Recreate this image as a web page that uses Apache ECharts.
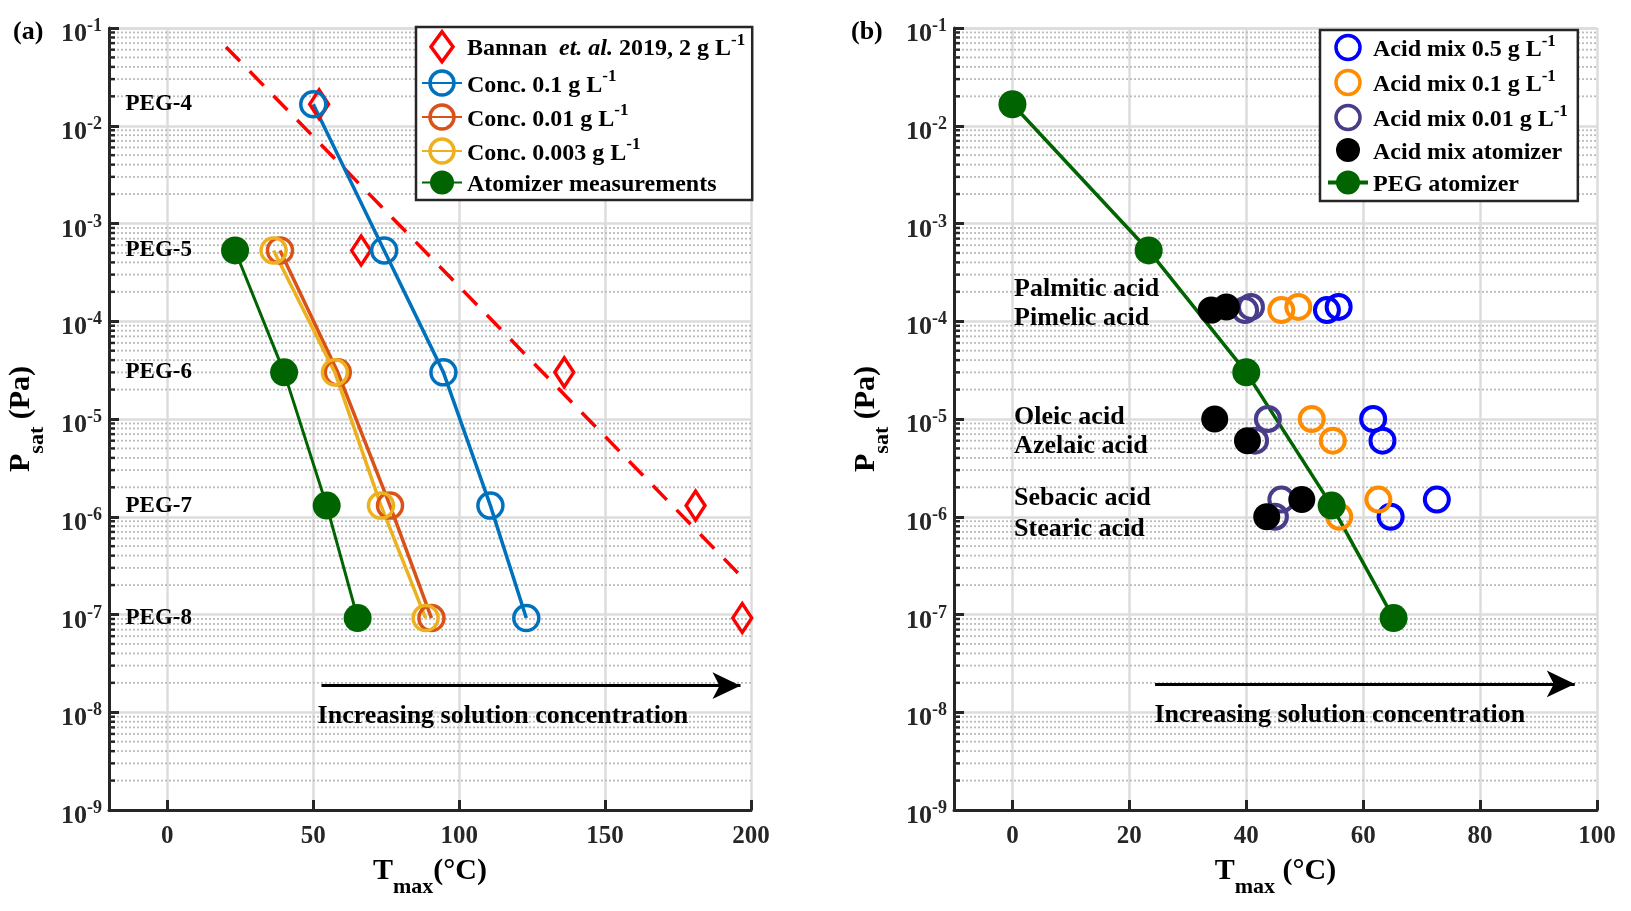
<!DOCTYPE html>
<html><head><meta charset="utf-8">
<script src="https://cdn.jsdelivr.net/npm/echarts@6/dist/echarts.min.js"></script>
<style>html,body{margin:0;padding:0;background:#fff}#c{width:1631px;height:911px}</style>
</head><body><div id="c"></div><script>
// ---------- Panel (a) data ----------
const pegNames   = ['PEG-4','PEG-5','PEG-6','PEG-7','PEG-8'];
const pegPsat    = [1.66e-2, 5.3e-4, 3.0e-5, 1.3e-6, 9.2e-8];
const bannanT    = [52, 66.4, 136, 181, 197];
const conc01T    = [50, 74.3, 94.6, 110.7, 123];
const conc001T   = [null, 38.6, 58.4, 76.3, 90.5];
const conc0003T  = [null, 36.4, 57.4, 73.2, 88.5];
const atomizerT  = [null, 23.2, 40, 54.6, 65.2];
const bannanFitT = [20.1, 196.4];
const bannanFitP = [6.4e-2, 2.5e-7];
const pegLabelT  = -14.5;
const arrowA     = [[52.8, 1.87e-8], [196.4, 1.87e-8]];
const arrowTextA = [115, 9.2e-9];
// ---------- Panel (b) data ----------
const acidPsat   = [1.3e-4, 1.4e-4, 1.0e-5, 6.0e-6, 1.5e-6, 1.0e-6];
const acid05T    = [53.8, 55.8, 61.7, 63.3, 72.6, 64.7];
const acid01T    = [46.0, 48.9, 51.2, 54.8, 62.6, 55.9];
const acid001T   = [39.8, 40.8, 43.7, 41.5, 46.0, 44.9];
const acidAtomT  = [34.0, 36.6, 34.6, 40.2, 49.5, 43.5];
const pegAtomT   = [0, 23.3, 40, 54.6, 65.2];
const acidNames  = ['Palmitic acid','Pimelic acid','Oleic acid','Azelaic acid','Sebacic acid','Stearic acid'];
const acidLabelP = [2.1e-4, 1.08e-4, 1.05e-5, 5.2e-6, 1.56e-6, 7.5e-7];
const acidLabelT = 0.2;
const arrowB     = [[24.4, 1.95e-8], [96.2, 1.95e-8]];
const arrowTextB = [56, 9.4e-9];
// axis ranges
const xRangeA = [-20, 200];
const xRangeB = [-10, 100];

const FONT = '"Liberation Serif","Times New Roman",serif';
const AX = '#262626';
const C = {blueA:'#0072BD', orangeA:'#D95319', yellowA:'#EDB120', green:'#006400', red:'#FF0000',
           blueB:'#0000FF', orangeB:'#FF8C00', purpleB:'#483D8B', black:'#000000'};

function pts(xs, ys){ const o=[]; xs.forEach((x,i)=>{ if(x!=null) o.push([x, ys[i]]); }); return o; }

const minorVals = [];
for (let k=-9; k<=-2; k++) for (let m=2; m<=9; m++) minorVals.push(m*Math.pow(10,k));

function minorSeries(gi, range){
  return { type:'custom', xAxisIndex:gi, yAxisIndex:gi, silent:true, z:1, clip:false,
    data: minorVals.map(v=>[range[0], v]),
    renderItem:(params, api)=>{
      const y = api.value(1);
      const a = api.coord([range[0], y]), b = api.coord([range[1], y]);
      return {type:'group', children:[
        {type:'line', shape:{x1:a[0], y1:a[1], x2:b[0], y2:b[1]}, style:{stroke:'#bcbcbc', lineWidth:1.8, lineDash:[2,2]}},
        {type:'line', shape:{x1:a[0], y1:a[1], x2:a[0]+6, y2:a[1]}, style:{stroke:AX, lineWidth:2.5}}
      ]};
    }};
}

const nameRich = {
  t:{fontFamily:FONT, fontWeight:'bold', fontSize:30, color:'#000', lineHeight:42, verticalAlign:'top'},
  sub:{fontFamily:FONT, fontWeight:'bold', fontSize:22, color:'#000', lineHeight:42, verticalAlign:'bottom'}
};
function xAx(gi, range, split, name){
  return { gridIndex:gi, type:'value', min:range[0], max:range[1], splitNumber:split,
    name:name, nameLocation:'middle', nameGap:46, nameTextStyle:{rich:nameRich},
    axisLine:{onZero:false, lineStyle:{color:AX, width:3}},
    axisTick:{inside:true, length:10, lineStyle:{color:AX, width:3}},
    axisLabel:{showMinLabel:false, margin:14, fontFamily:FONT, fontWeight:'bold', fontSize:25, color:AX},
    splitLine:{show:true, lineStyle:{color:'#dcdcdc', width:2.5}} };
}
function yAx(gi){
  return { gridIndex:gi, type:'log', logBase:10, min:1e-9, max:1e-1,
    name:'{t|P}{sub|sat}{t| (Pa)}', nameLocation:'middle', nameGap:61, nameTextStyle:{rich:nameRich},
    axisLine:{onZero:false, lineStyle:{color:AX, width:3}},
    axisTick:{inside:true, length:10, lineStyle:{color:AX, width:3}},
    axisLabel:{margin:7, padding:[9,0,0,0],
      formatter:v=>'{b|10}{s|'+Math.round(Math.log10(v))+'}',
      rich:{ b:{fontFamily:FONT, fontWeight:'bold', fontSize:26, color:AX, lineHeight:30, verticalAlign:'bottom'},
             s:{fontFamily:FONT, fontWeight:'bold', fontSize:18, color:AX, lineHeight:30, verticalAlign:'top'} }},
    splitLine:{show:true, lineStyle:{color:'#dcdcdc', width:2.5}} };
}

const legRich = {
  t:{fontFamily:FONT, fontWeight:'bold', fontSize:24, color:'#000', lineHeight:29, verticalAlign:'bottom'},
  i:{fontFamily:FONT, fontWeight:'bold', fontStyle:'italic', fontSize:24, color:'#000', lineHeight:29, verticalAlign:'bottom'},
  s:{fontFamily:FONT, fontWeight:'bold', fontSize:17, color:'#000', lineHeight:29, verticalAlign:'top'}
};
const legText = {
  'Bannan et. al. 2019, 2 g L-1':'{t|Bannan  }{i|et. al.}{t| 2019, 2 g L}{s|-1}',
  'Conc. 0.1 g L-1':'{t|Conc. 0.1 g L}{s|-1}',
  'Conc. 0.01 g L-1':'{t|Conc. 0.01 g L}{s|-1}',
  'Conc. 0.003 g L-1':'{t|Conc. 0.003 g L}{s|-1}',
  'Atomizer measurements':'{t|Atomizer measurements}',
  'Acid mix 0.5 g L-1':'{t|Acid mix 0.5 g L}{s|-1}',
  'Acid mix 0.1 g L-1':'{t|Acid mix 0.1 g L}{s|-1}',
  'Acid mix 0.01 g L-1':'{t|Acid mix 0.01 g L}{s|-1}',
  'Acid mix atomizer':'{t|Acid mix atomizer}',
  'PEG atomizer':'{t|PEG atomizer}'
};

function openLine(name, xs, color){
  return { name, type:'line', xAxisIndex:0, yAxisIndex:0, data:pts(xs, pegPsat), z:3,
    symbol:'circle', symbolSize:25, lineStyle:{color, width:3.5},
    itemStyle:{color:'transparent', borderColor:color, borderWidth:3.5} };
}
function openScatter(name, xs, color){
  return { name, type:'scatter', xAxisIndex:1, yAxisIndex:1, data:pts(xs, acidPsat), z:3,
    symbol:'circle', symbolSize:24, itemStyle:{color:'transparent', borderColor:color, borderWidth:4, opacity:1} };
}
function textSeries(gi, items, size){
  return { type:'scatter', xAxisIndex:gi, yAxisIndex:gi, symbolSize:1, silent:true, z:6,
    itemStyle:{color:'transparent', opacity:1}, data:items,
    label:{show:true, position:'right', distance:0, align:'left', verticalAlign:'middle', formatter:'{b}',
      fontFamily:FONT, fontWeight:'bold', fontSize:size, color:'#000', opacity:1} };
}
function arrowSeries(gi, arr, txt){
  return { type:'scatter', xAxisIndex:gi, yAxisIndex:gi, symbolSize:1, silent:true, z:6,
    itemStyle:{color:'transparent', opacity:1},
    data:[{name:'Increasing solution concentration', value:txt}],
    label:{show:true, position:'inside', align:'center', verticalAlign:'middle', formatter:'{b}',
      fontFamily:FONT, fontWeight:'bold', fontSize:26, color:'#000', opacity:1},
    markLine:{silent:true, symbol:['none','arrow'], symbolSize:[20,28], label:{show:false},
      lineStyle:{color:'#000', width:3, type:'solid', opacity:1},
      data:[[{coord:arr[0]},{coord:arr[1]}]]} };
}

const diamondIcon = 'path://M11,0 L22,15 L11,30 L0,15 Z';
const pegLegIcon  = 'path://M0,10 L40,10 L40,14 L0,14 Z M32,12 A12,12 0 1,1 8,12 A12,12 0 1,1 32,12 Z';

const option = {
  animation:false,
  textStyle:{fontFamily:FONT},
  graphic:[
    {type:'text', left:13, top:19, style:{text:'(a)', font:'bold 26px "Liberation Serif"', fill:'#000'}},
    {type:'text', left:851, top:19, style:{text:'(b)', font:'bold 26px "Liberation Serif"', fill:'#000'}}
  ],
  grid:[
    {left:109, top:28, width:642, height:782},
    {left:954, top:28, width:643, height:782}
  ],
  xAxis:[ xAx(0, xRangeA, 4, '{t|T}{sub|max}{t|(°C)}'), xAx(1, xRangeB, 5, '{t|T}{sub|max}{t| (°C)}') ],
  yAxis:[ yAx(0), yAx(1) ],
  legend:[
    { orient:'vertical', left:416, top:27, itemWidth:40, itemHeight:30, itemGap:5, itemTextGap:4,
      padding:[3,7,3,5], borderColor:AX, borderWidth:2.5, backgroundColor:'#fff', selectedMode:false,
      formatter:n=>legText[n], textStyle:{rich:legRich},
      data:[
        {name:'Bannan et. al. 2019, 2 g L-1', icon:diamondIcon, itemStyle:{color:'#fff', borderColor:C.red, borderWidth:3.5}},
        {name:'Conc. 0.1 g L-1', itemStyle:{color:'transparent', borderColor:C.blueA, borderWidth:3.5}},
        {name:'Conc. 0.01 g L-1', itemStyle:{color:'transparent', borderColor:C.orangeA, borderWidth:3.5}},
        {name:'Conc. 0.003 g L-1', itemStyle:{color:'transparent', borderColor:C.yellowA, borderWidth:3.5}},
        {name:'Atomizer measurements', itemStyle:{color:C.green, borderWidth:0}}
      ]},
    { orient:'vertical', left:1320, top:30, itemWidth:40, itemHeight:24, itemGap:6, itemTextGap:6,
      padding:[3,10,4,8], borderColor:AX, borderWidth:2.5, backgroundColor:'#fff', selectedMode:false,
      formatter:n=>legText[n], textStyle:{rich:legRich},
      data:[
        {name:'Acid mix 0.5 g L-1', icon:'circle', itemStyle:{color:'transparent', borderColor:C.blueB, borderWidth:3.5}},
        {name:'Acid mix 0.1 g L-1', icon:'circle', itemStyle:{color:'transparent', borderColor:C.orangeB, borderWidth:3.5}},
        {name:'Acid mix 0.01 g L-1', icon:'circle', itemStyle:{color:'transparent', borderColor:C.purpleB, borderWidth:3.5}},
        {name:'Acid mix atomizer', icon:'circle', itemStyle:{color:C.black, borderWidth:0}},
        {name:'PEG atomizer', icon:pegLegIcon, itemStyle:{color:C.green, borderWidth:0}}
      ]}
  ],
  series:[
    minorSeries(0, xRangeA),
    minorSeries(1, xRangeB),
    // panel a
    { type:'line', xAxisIndex:0, yAxisIndex:0, data:pts(bannanFitT, bannanFitP), symbol:'none', silent:true, z:2,
      lineStyle:{color:C.red, width:3.5, type:[20,14]} },
    { name:'Bannan et. al. 2019, 2 g L-1', type:'scatter', xAxisIndex:0, yAxisIndex:0, data:pts(bannanT, pegPsat), z:3,
      symbol:'diamond', symbolSize:[19,29], itemStyle:{color:'transparent', borderColor:C.red, borderWidth:3.5, opacity:1} },
    openLine('Conc. 0.1 g L-1', conc01T, C.blueA),
    openLine('Conc. 0.01 g L-1', conc001T, C.orangeA),
    openLine('Conc. 0.003 g L-1', conc0003T, C.yellowA),
    { name:'Atomizer measurements', type:'line', xAxisIndex:0, yAxisIndex:0, data:pts(atomizerT, pegPsat), z:3,
      symbol:'circle', symbolSize:28, lineStyle:{color:C.green, width:3}, itemStyle:{color:C.green} },
    textSeries(0, pegNames.map((n,i)=>({name:n, value:[pegLabelT, pegPsat[i]]})), 23),
    arrowSeries(0, arrowA, arrowTextA),
    // panel b
    openScatter('Acid mix 0.5 g L-1', acid05T, C.blueB),
    openScatter('Acid mix 0.1 g L-1', acid01T, C.orangeB),
    openScatter('Acid mix 0.01 g L-1', acid001T, C.purpleB),
    { name:'Acid mix atomizer', type:'scatter', xAxisIndex:1, yAxisIndex:1, data:pts(acidAtomT, acidPsat), z:3,
      symbol:'circle', symbolSize:27, itemStyle:{color:C.black, opacity:1} },
    { name:'PEG atomizer', type:'line', xAxisIndex:1, yAxisIndex:1, data:pts(pegAtomT, pegPsat), z:3,
      symbol:'circle', symbolSize:28, lineStyle:{color:C.green, width:3.5}, itemStyle:{color:C.green} },
    textSeries(1, acidNames.map((n,i)=>({name:n, value:[acidLabelT, acidLabelP[i]]})), 26),
    arrowSeries(1, arrowB, arrowTextB)
  ]
};
const chart = echarts.init(document.getElementById('c'));
chart.setOption(option);
</script></body></html>
